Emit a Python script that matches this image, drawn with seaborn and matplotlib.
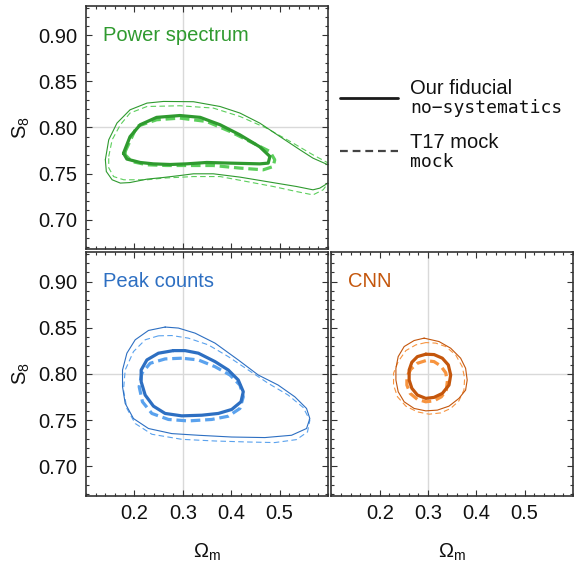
import numpy as np
import pandas as pd
import seaborn as sns
import matplotlib.pyplot as plt
from matplotlib.lines import Line2D
from matplotlib.ticker import MultipleLocator, FormatStrFormatter

# contour points: (Omega_m, S8)
# power spectrum
ps_fid_68 = [(0.1775, 0.772), (0.191, 0.790), (0.212, 0.803), (0.246, 0.811), (0.294, 0.813),
             (0.336, 0.811), (0.377, 0.803), (0.418, 0.792), (0.459, 0.779), (0.480, 0.7685),
             (0.4765, 0.7613), (0.459, 0.7605), (0.3975, 0.7613), (0.3495, 0.762), (0.308, 0.7605),
             (0.274, 0.7598), (0.239, 0.7605), (0.212, 0.762), (0.1845, 0.7657)]
ps_t17_68 = [(0.181, 0.7739), (0.205, 0.8011), (0.246, 0.8084), (0.294, 0.8102), (0.3495, 0.8065),
             (0.3975, 0.7957), (0.4456, 0.783), (0.480, 0.7739), (0.490, 0.7649), (0.4868, 0.7576),
             (0.466, 0.754), (0.418, 0.7559), (0.363, 0.7587), (0.315, 0.7587), (0.267, 0.7587),
             (0.226, 0.7595), (0.195, 0.763), (0.181, 0.7703)]
ps_fid_95 = [(0.140, 0.765), (0.147, 0.7866), (0.164, 0.8048), (0.191, 0.8192), (0.226, 0.8265),
             (0.260, 0.8283), (0.322, 0.828), (0.377, 0.8228), (0.418, 0.8157), (0.459, 0.8048),
             (0.5006, 0.7902), (0.542, 0.7758), (0.569, 0.7667), (0.600, 0.7595), (0.630, 0.745),
             (0.600, 0.7396), (0.583, 0.7341), (0.569, 0.7323), (0.535, 0.7359), (0.473, 0.7413),
             (0.418, 0.7461), (0.363, 0.7497), (0.322, 0.7497), (0.294, 0.7478), (0.260, 0.7457),
             (0.226, 0.7439), (0.191, 0.7402), (0.171, 0.7396), (0.154, 0.7432), (0.142, 0.7522)]
ps_t17_95 = [(0.147, 0.7685), (0.154, 0.7866), (0.171, 0.8029), (0.191, 0.8157), (0.226, 0.8228),
             (0.294, 0.8236), (0.363, 0.8211), (0.418, 0.812), (0.473, 0.7993), (0.528, 0.783),
             (0.569, 0.7703), (0.600, 0.7616), (0.630, 0.745), (0.600, 0.7396), (0.590, 0.7323),
             (0.569, 0.7268), (0.535, 0.7304), (0.487, 0.7359), (0.432, 0.7413), (0.377, 0.7467),
             (0.322, 0.7467), (0.260, 0.745), (0.226, 0.7432), (0.178, 0.7432), (0.157, 0.7467),
             (0.147, 0.7562)]
# peak counts
pc_fid_68 = [(0.2806, 0.8253), (0.2497, 0.8225), (0.2258, 0.8152), (0.214, 0.8043), (0.214, 0.7916),
             (0.2223, 0.7772), (0.2394, 0.7652), (0.2635, 0.7573), (0.2979, 0.7547), (0.3392, 0.7554),
             (0.3734, 0.7573), (0.401, 0.7616), (0.4202, 0.7699), (0.425, 0.7808), (0.4146, 0.7935),
             (0.394, 0.8043), (0.3666, 0.8134), (0.3322, 0.8225), (0.3047, 0.8253)]
pc_t17_68 = [(0.2979, 0.8171), (0.2635, 0.8163), (0.2326, 0.8116), (0.2155, 0.8008), (0.2099, 0.7862),
             (0.2167, 0.7699), (0.2361, 0.7573), (0.2703, 0.7508), (0.3115, 0.7492), (0.3598, 0.7508),
             (0.394, 0.7543), (0.4181, 0.7627), (0.425, 0.7753), (0.4181, 0.788), (0.3975, 0.7989),
             (0.3666, 0.8079), (0.3322, 0.8152)]
pc_fid_95 = [(0.2635, 0.8508), (0.2291, 0.8471), (0.2017, 0.837), (0.1845, 0.8225), (0.1755, 0.8043),
             (0.1755, 0.7862), (0.181, 0.7682), (0.1981, 0.7518), (0.2291, 0.741), (0.2773, 0.7355),
             (0.3322, 0.7337), (0.401, 0.7318), (0.4697, 0.7312), (0.5247, 0.7337), (0.5557, 0.741),
             (0.5625, 0.7518), (0.5557, 0.7627), (0.5315, 0.7753), (0.4971, 0.788), (0.4559, 0.7989),
             (0.4146, 0.8152), (0.3666, 0.8334), (0.3254, 0.8442), (0.2909, 0.8497)]
pc_t17_95 = [(0.2497, 0.8413), (0.2223, 0.837), (0.1981, 0.8242), (0.181, 0.8043), (0.1775, 0.7826),
             (0.1845, 0.7627), (0.2017, 0.7464), (0.2361, 0.7348), (0.2979, 0.7293), (0.3666, 0.7275),
             (0.4353, 0.7264), (0.4903, 0.7258), (0.535, 0.729), (0.5577, 0.7373), (0.5625, 0.750),
             (0.5487, 0.7638), (0.5177, 0.7772), (0.4765, 0.7899), (0.4353, 0.8043), (0.394, 0.8188),
             (0.3528, 0.8315), (0.3115, 0.8388), (0.2773, 0.8416)]
# CNN
cnn_fid_68 = [(0.2953, 0.8214), (0.2779, 0.8188), (0.2664, 0.8127), (0.2608, 0.8043), (0.2608, 0.7935),
              (0.2664, 0.7845), (0.2779, 0.7772), (0.2953, 0.7736), (0.3124, 0.7747), (0.3295, 0.779),
              (0.3433, 0.788), (0.3468, 0.7989), (0.3419, 0.8098), (0.3295, 0.8171), (0.3124, 0.821)]
cnn_t17_68 = [(0.2953, 0.8145), (0.2779, 0.8116), (0.2643, 0.8051), (0.2561, 0.7971), (0.2561, 0.788),
              (0.2629, 0.779), (0.2779, 0.7725), (0.2953, 0.7699), (0.3124, 0.771), (0.3275, 0.7753),
              (0.3378, 0.7826), (0.3398, 0.7917), (0.3365, 0.8014), (0.3262, 0.8087), (0.3124, 0.8134)]
cnn_fid_95 = [(0.2918, 0.8388), (0.2711, 0.8362), (0.2505, 0.8297), (0.2381, 0.8188), (0.2334, 0.8062),
              (0.2334, 0.7935), (0.2381, 0.7808), (0.2505, 0.7699), (0.2711, 0.7627), (0.2953, 0.7601),
              (0.3192, 0.7609), (0.3433, 0.7652), (0.3639, 0.7736), (0.3777, 0.7826), (0.381, 0.7935),
              (0.3777, 0.8062), (0.3674, 0.8171), (0.3468, 0.8279), (0.3227, 0.8351)]
cnn_t17_95 = [(0.2953, 0.834), (0.2746, 0.8315), (0.254, 0.8253), (0.2381, 0.8134), (0.2285, 0.8008),
              (0.2285, 0.788), (0.2367, 0.7753), (0.254, 0.7652), (0.2779, 0.759), (0.3021, 0.7565),
              (0.3262, 0.7579), (0.3468, 0.7627), (0.3639, 0.771), (0.3742, 0.7826), (0.3757, 0.7953),
              (0.3707, 0.8079), (0.3571, 0.8207), (0.3365, 0.8297), (0.3159, 0.8334)]

fiducial_om, fiducial_s8 = 0.3, 0.8

sns.set_theme(style="ticks")
plt.rcParams['font.family'] = ['Liberation Sans', 'DejaVu Sans']
plt.rcParams['mathtext.default'] = 'regular'
plt.rcParams['text.color'] = '#111111'
plt.rcParams['axes.labelcolor'] = '#111111'
plt.rcParams['xtick.labelcolor'] = '#111111'
plt.rcParams['ytick.labelcolor'] = '#111111'

fig = plt.figure(figsize=(5.74, 5.64), dpi=100)
ax_ps = fig.add_axes([0.1498, 0.5585, 0.4216, 0.4309])
ax_pc = fig.add_axes([0.1498, 0.1206, 0.4216, 0.4326])
ax_cnn = fig.add_axes([0.5775, 0.1206, 0.4207, 0.4326])

panels = [
    (ax_ps, "Power spectrum", "#2f9a2f", "#5ccf5c", ps_fid_68, ps_t17_68, ps_fid_95, ps_t17_95),
    (ax_pc, "Peak counts", "#2d6fc2", "#5aa2ee", pc_fid_68, pc_t17_68, pc_fid_95, pc_t17_95),
    (ax_cnn, "CNN", "#c4560c", "#f7943f", cnn_fid_68, cnn_t17_68, cnn_fid_95, cnn_t17_95),
]


def draw_contour(ax, pts, color, lw, dashed):
    pts = list(pts) + [pts[0]]
    df = pd.DataFrame(pts, columns=["om", "s8"])
    sns.lineplot(data=df, x="om", y="s8", sort=False, estimator=None, ax=ax,
                 color=color, lw=lw, solid_joinstyle="round", dash_joinstyle="round")
    line = ax.get_lines()[-1]
    if dashed:
        line.set_dashes((3.0, 1.5) if lw > 1.5 else (5.0, 3.0))


for ax, name, c_fid, c_t17, f68, t68, f95, t95 in panels:
    ax.axvline(fiducial_om, color="#d9d9d9", lw=1.0, zorder=0)
    ax.axhline(fiducial_s8, color="#d9d9d9", lw=1.0, zorder=0)
    draw_contour(ax, t95, c_t17, 0.8, True)
    draw_contour(ax, f95, c_fid, 0.8, False)
    draw_contour(ax, t68, c_t17, 2.3, True)
    draw_contour(ax, f68, c_fid, 2.3, False)
    ax.text(0.07, 0.88, name, transform=ax.transAxes, color=c_fid,
            fontsize=14.5, va="center", ha="left")
    ax.set_xlim(0.1, 0.6)
    ax.set_ylim(0.668, 0.932)
    ax.set_xticks([0.2, 0.3, 0.4, 0.5])
    ax.xaxis.set_minor_locator(MultipleLocator(0.02))
    ax.yaxis.set_major_locator(MultipleLocator(0.05))
    ax.yaxis.set_minor_locator(MultipleLocator(0.01))
    ax.xaxis.set_major_formatter(FormatStrFormatter("%.1f"))
    ax.yaxis.set_major_formatter(FormatStrFormatter("%.2f"))
    ax.tick_params(which="both", direction="in", top=True, right=True,
                   color="#333333", labelsize=14.5, pad=6)
    ax.tick_params(which="major", length=4, width=0.8)
    ax.tick_params(which="minor", length=2.5, width=0.8)
    for sp in ax.spines.values():
        sp.set_color("#333333")
        sp.set_linewidth(1.2)
    ax.set_xlabel("")
    ax.set_ylabel("")

ax_ps.tick_params(labelbottom=False)
ax_cnn.tick_params(labelleft=False)
ax_ps.set_ylabel("$S_8$", fontsize=14.5, labelpad=5)
ax_pc.set_ylabel("$S_8$", fontsize=14.5, labelpad=5)
ax_pc.set_xlabel("$\\Omega_m$", fontsize=14.5, labelpad=13)
ax_cnn.set_xlabel("$\\Omega_m$", fontsize=14.5, labelpad=13)

# legend in the empty corner
fig.add_artist(Line2D([0.592, 0.693], [0.8268, 0.8268], color="#1a1a1a", lw=2.0,
                      transform=fig.transFigure))
fig.add_artist(Line2D([0.592, 0.693], [0.7328, 0.7328], color="#444444", lw=1.6,
                      dashes=(3.5, 2.2), transform=fig.transFigure))
fig.text(0.7143, 0.8422, "Our fiducial", fontsize=14.5, va="center")
fig.text(0.7143, 0.809, "no\u2212systematics", fontsize=13, va="center",
         family=["DejaVu Sans Mono"])
fig.text(0.7143, 0.7465, "T17 mock", fontsize=14.5, va="center")
fig.text(0.7143, 0.7133, "mock", fontsize=13, va="center",
         family=["DejaVu Sans Mono"])

fig.savefig("out.png", dpi=100)
